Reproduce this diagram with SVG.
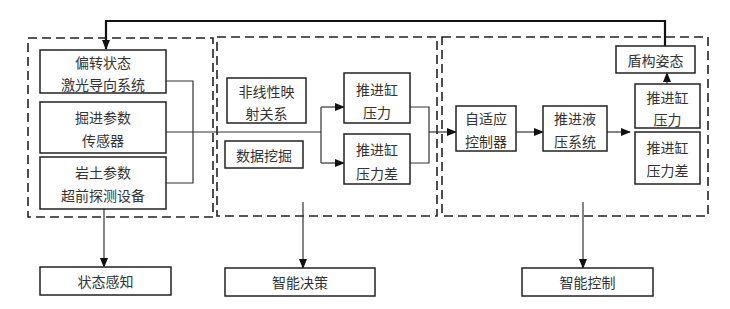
<svg xmlns="http://www.w3.org/2000/svg" width="730" height="309" viewBox="0 0 730 309">
<style>
.bg{fill:#fff}
.box{fill:#fff;stroke:#222;stroke-width:1.5}
.dash{fill:none;stroke:#222;stroke-width:1.6;stroke-dasharray:9,5}
.ln{fill:none;stroke:#333;stroke-width:1.2}
.fb{fill:none;stroke:#111;stroke-width:2.2}
text{font-family:"Noto Sans CJK SC","Noto Sans CJK JP",sans-serif;font-size:14px;fill:#333;text-anchor:middle;dominant-baseline:central}
</style>
<defs>
<marker id="ah" markerUnits="userSpaceOnUse" markerWidth="10" markerHeight="8" refX="9" refY="4" orient="auto"><path d="M0,0 L10,4 L0,8 Z" fill="#111"/></marker>
</defs>
<rect class="bg" x="0" y="0" width="730" height="309"/>
<g id="group-perception"><rect class="dash" x="28" y="38" width="185" height="179"/></g>
<g id="group-decision"><rect class="dash" x="217" y="37" width="220" height="179"/></g>
<g id="group-control"><rect class="dash" x="442" y="37" width="266" height="179"/></g>

<g id="connectors">
<polyline class="ln" points="166,81 193,81 193,183 166,183"/>
<line class="ln" x1="166" y1="132" x2="321" y2="132"/>
<line class="ln" x1="321" y1="107" x2="321" y2="163"/>
<line class="ln" x1="321" y1="107" x2="344" y2="107" marker-end="url(#ah)"/>
<line class="ln" x1="321" y1="163" x2="344" y2="163" marker-end="url(#ah)"/>
<polyline class="ln" points="410,107 429,107 429,163 410,163"/>
<line class="ln" x1="429" y1="132" x2="456" y2="132" marker-end="url(#ah)"/>
<line class="ln" x1="516" y1="132" x2="543" y2="132" marker-end="url(#ah)"/>
<line class="ln" x1="607" y1="132" x2="630" y2="132" marker-end="url(#ah)"/>
<line class="ln" x1="667" y1="84" x2="667" y2="73" marker-end="url(#ah)"/>
<polyline class="fb" points="665,46 665,21 106,21 106,49" marker-end="url(#ah)"/>
<line class="ln" x1="104" y1="209" x2="104" y2="267" marker-end="url(#ah)"/>
<line class="ln" x1="303" y1="202" x2="303" y2="268" marker-end="url(#ah)"/>
<line class="ln" x1="583" y1="202" x2="583" y2="268" marker-end="url(#ah)"/>
</g>

<g id="n-laser"><rect class="box" x="40" y="50" width="126" height="43"/><text x="103" y="62">偏转状态</text><text x="103" y="84">激光导向系统</text></g>
<g id="n-sensor"><rect class="box" x="40" y="102" width="126" height="51"/><text x="103" y="117">掘进参数</text><text x="103" y="140">传感器</text></g>
<g id="n-detect"><rect class="box" x="40" y="157" width="126" height="52"/><text x="103" y="172">岩土参数</text><text x="103" y="195">超前探测设备</text></g>

<g id="n-nonlinear"><rect class="box" x="227" y="78" width="79" height="45"/><text x="266.5" y="91">非线性映</text><text x="266.5" y="113">射关系</text></g>
<g id="n-mining"><rect class="box" x="225" y="141" width="78" height="27"/><text x="264" y="155">数据挖掘</text></g>
<g id="n-force1"><rect class="box" x="344" y="73" width="66" height="50"/><text x="377" y="89">推进缸</text><text x="377" y="112">压力</text></g>
<g id="n-diff1"><rect class="box" x="344" y="134" width="66" height="50"/><text x="377" y="149">推进缸</text><text x="377" y="173">压力差</text></g>

<g id="n-adaptive"><rect class="box" x="456" y="106" width="60" height="45"/><text x="486" y="118">自适应</text><text x="486" y="141">控制器</text></g>
<g id="n-hydraulic"><rect class="box" x="543" y="106" width="64" height="45"/><text x="575" y="118">推进液</text><text x="575" y="141">压系统</text></g>
<g id="n-attitude"><rect class="box" x="616" y="46" width="79" height="27"/><text x="655.5" y="60">盾构姿态</text></g>
<g id="n-force2"><rect class="box" x="635" y="84" width="65" height="44"/><text x="667.5" y="97">推进缸</text><text x="667.5" y="119">压力</text></g>
<g id="n-diff2"><rect class="box" x="635" y="132" width="65" height="52"/><text x="667.5" y="147">推进缸</text><text x="667.5" y="170">压力差</text></g>

<g id="n-perception"><rect class="box" x="40" y="267" width="131" height="28"/><text x="105.5" y="281">状态感知</text></g>
<g id="n-decision"><rect class="box" x="225" y="268" width="150" height="28"/><text x="300" y="282">智能决策</text></g>
<g id="n-control"><rect class="box" x="522" y="268" width="131" height="28"/><text x="587.5" y="282">智能控制</text></g>
</svg>
